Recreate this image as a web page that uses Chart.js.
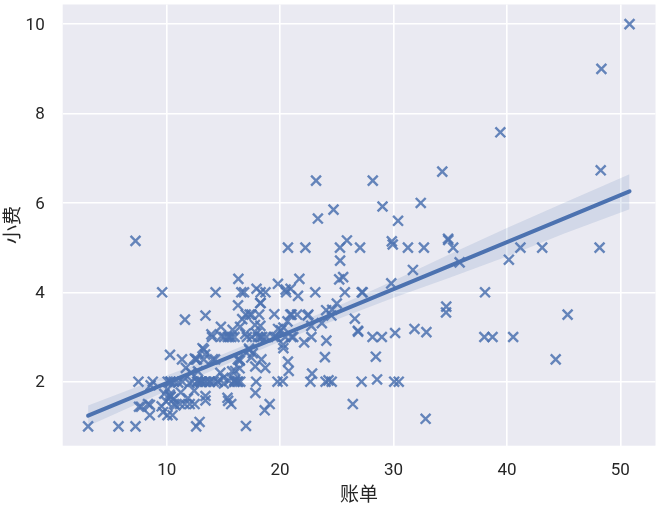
<!DOCTYPE html>
<html>
<head>
<meta charset="utf-8">
<title>tips</title>
<script src="https://cdn.jsdelivr.net/npm/chart.js@4"></script>
<style>
  html, body { margin: 0; padding: 0; background: #fff; }
  canvas { display: block; }
</style>
</head>
<body>
<canvas id="container" width="661" height="506"></canvas>
<script>
const bills = [16.99,10.34,21.01,23.68,24.59,25.29,8.77,26.88,15.04,14.78,10.27,35.26,15.42,18.43,14.83,21.58,10.33,16.29,16.97,20.65,17.92,20.29,15.77,39.42,19.82,17.81,13.37,12.69,21.7,19.65,9.55,18.35,15.06,20.69,17.78,24.06,16.31,16.93,18.69,31.27,16.04,17.46,13.94,9.68,30.4,18.29,22.23,32.4,28.55,18.04,12.54,10.29,34.81,9.94,25.56,19.49,38.01,26.41,11.24,48.27,20.29,13.81,11.02,18.29,17.59,20.08,16.45,3.07,20.23,15.01,12.02,17.07,26.86,25.28,14.73,10.51,17.92,27.2,22.76,17.29,19.44,16.66,10.07,32.68,15.98,34.83,13.03,18.28,24.71,21.16,28.97,22.49,5.75,16.32,22.75,40.17,27.28,12.03,21.01,12.46,11.35,15.38,44.3,22.42,20.92,15.36,20.49,25.21,18.24,14.31,14.0,7.25,38.07,23.95,25.71,17.31,29.93,10.65,12.43,24.08,11.69,13.42,14.26,15.95,12.48,29.8,8.52,14.52,11.38,22.82,19.08,20.27,11.17,12.26,18.26,8.51,10.33,14.15,16.0,13.16,17.47,34.3,41.19,27.05,16.43,8.35,18.64,11.87,9.78,7.51,14.07,13.13,17.26,24.55,19.77,29.85,48.17,25.0,13.39,16.49,21.5,12.66,16.21,13.81,17.51,24.52,20.76,31.71,10.59,10.63,50.81,15.81,7.25,31.85,16.82,32.9,17.89,14.48,9.6,34.63,34.65,23.33,45.35,23.17,40.55,20.69,20.9,30.46,18.15,23.1,15.69,19.81,28.44,15.48,16.58,7.56,10.34,43.11,13.0,13.51,18.71,12.74,13.0,16.4,20.53,16.47,26.59,38.73,24.27,12.76,30.06,25.89,48.33,13.27,28.17,12.9,28.15,11.59,7.74,30.14,12.16,13.42,8.58,15.98,13.42,16.27,10.09,20.45,13.28,22.12,24.01,15.69,11.61,10.77,15.53,10.07,12.6,32.83,35.83,29.03,27.18,22.67,17.82,18.78];
const tips = [1.01,1.66,3.5,3.31,3.61,4.71,2.0,3.12,1.96,3.23,1.71,5.0,1.57,3.0,3.02,3.92,1.67,3.71,3.5,3.35,4.08,2.75,2.23,7.58,3.18,2.34,2.0,2.0,4.3,3.0,1.45,2.5,3.0,2.45,3.27,3.6,2.0,3.07,2.31,5.0,2.24,2.54,3.06,1.32,5.6,3.0,5.0,6.0,2.05,3.0,2.5,2.6,5.2,1.56,4.34,3.51,3.0,1.5,1.76,6.73,3.21,2.0,1.98,3.76,2.64,3.15,2.47,1.0,2.01,2.09,1.97,3.0,3.14,5.0,2.2,1.25,3.08,4.0,3.0,2.71,3.0,3.4,1.83,5.0,2.03,5.17,2.0,4.0,5.85,3.0,3.0,3.5,1.0,4.3,3.25,4.73,4.0,1.5,3.0,1.5,2.5,3.0,2.5,3.48,4.08,1.64,4.06,4.29,3.76,4.0,3.0,1.0,4.0,2.55,4.0,3.5,5.07,1.5,1.8,2.92,2.31,1.68,2.5,2.0,2.52,4.2,1.48,2.0,2.0,2.18,1.5,2.83,1.5,2.0,3.25,1.25,2.0,2.0,2.0,2.75,3.5,6.7,5.0,5.0,2.3,1.5,1.36,1.63,1.73,2.0,2.5,2.0,2.74,2.0,2.0,5.14,5.0,3.75,2.61,2.0,3.5,2.5,2.0,2.0,3.0,3.48,2.24,4.5,1.61,2.0,10.0,3.16,5.15,3.18,4.0,3.11,2.0,2.0,4.0,3.55,3.68,5.65,3.5,6.5,3.0,5.0,3.5,2.0,3.5,4.0,1.5,4.19,2.56,2.02,4.0,1.44,2.0,5.0,2.0,2.0,4.0,2.01,2.0,2.5,4.0,3.23,3.41,3.0,2.03,2.23,2.0,5.16,9.0,2.5,6.5,1.1,3.0,1.5,1.44,3.09,2.2,3.48,1.92,3.0,1.58,2.5,2.0,3.0,2.72,2.88,2.0,3.0,3.39,1.47,3.0,1.25,1.0,1.17,4.67,5.92,2.0,2.0,1.75,3.0];

const lineBills = [3.07, 50.81];
const lineTips = [1.24, 6.26];

const bandBills = [3.07, 10, 15, 20, 25, 30, 35, 40, 45, 50.81];
const bandLower = [1.01, 1.80, 2.36, 2.90, 3.39, 3.88, 4.33, 4.80, 5.31, 5.86];
const bandUpper = [1.47, 2.14, 2.62, 3.15, 3.68, 4.26, 4.86, 5.44, 6.00, 6.64];

const xTicks = [10, 20, 30, 40, 50];
const yTicks = [2, 4, 6, 8, 10];

const xLabel = '账单';
const yLabel = '小费';

const blue = '#4C72B0';
const labelFont = '"Noto Sans CJK SC", sans-serif';
const tickFont = 'Roboto, sans-serif';

const toPoints = (xs, ys) => xs.map((x, i) => ({ x: x, y: ys[i] }));

// seaborn's grey panel behind the grid
const panel = {
  id: 'panel',
  beforeDraw(chart) {
    const { ctx, chartArea: a } = chart;
    ctx.save();
    ctx.fillStyle = '#EAEAF2';
    ctx.fillRect(a.left, a.top, a.width, a.height);
    ctx.restore();
  }
};

new Chart(document.querySelector('#container'), {
  type: 'scatter',
  plugins: [panel],
  data: {
    datasets: [
      {
        data: toPoints(bandBills, bandLower),
        showLine: true,
        borderWidth: 0,
        pointRadius: 0,
        fill: '+1',
        backgroundColor: 'rgba(76,114,176,0.15)',
        order: 2
      },
      {
        data: toPoints(bandBills, bandUpper),
        showLine: true,
        borderWidth: 0,
        pointRadius: 0,
        order: 2
      },
      {
        data: toPoints(bills, tips),
        pointStyle: 'crossRot',
        pointRadius: 7,
        pointBorderWidth: 2.4,
        pointBorderColor: 'rgba(76,114,176,0.85)',
        order: 1
      },
      {
        data: toPoints(lineBills, lineTips),
        showLine: true,
        borderColor: blue,
        borderWidth: 4,
        borderCapStyle: 'round',
        pointRadius: 0,
        order: 0
      }
    ]
  },
  options: {
    responsive: false,
    animation: false,
    layout: { autoPadding: false, padding: { top: 4.5, right: 5.5, left: 0, bottom: 0 } },
    plugins: { legend: { display: false }, tooltip: { enabled: false } },
    scales: {
      x: {
        type: 'linear',
        min: 0.83,
        max: 53.1,
        afterBuildTicks: (axis) => { axis.ticks = xTicks.map(v => ({ value: v })); },
        afterFit: (axis) => { axis.height = 60.3; axis.paddingLeft = 0; axis.paddingRight = 0; },
        grid: { color: '#fff', lineWidth: 1.6, drawTicks: false },
        border: { display: false },
        ticks: { color: '#262626', font: { family: tickFont, size: 17 }, padding: 15, maxRotation: 0 },
        title: { display: true, text: xLabel, color: '#262626', font: { family: labelFont, size: 19 }, padding: { top: 4, bottom: 1 } }
      },
      y: {
        type: 'linear',
        min: 0.568,
        max: 10.44,
        afterBuildTicks: (axis) => { axis.ticks = yTicks.map(v => ({ value: v })); },
        afterFit: (axis) => { axis.width = 62.7; axis.paddingTop = 0; axis.paddingBottom = 0; },
        grid: { color: '#fff', lineWidth: 1.6, drawTicks: false },
        border: { display: false },
        ticks: { color: '#262626', font: { family: tickFont, size: 17 }, padding: 18, labelOffset: 1.5 },
        title: { display: true, text: yLabel, color: '#262626', font: { family: labelFont, size: 19 }, padding: { top: 0, bottom: 0 } }
      }
    }
  }
});
</script>
</body>
</html>
